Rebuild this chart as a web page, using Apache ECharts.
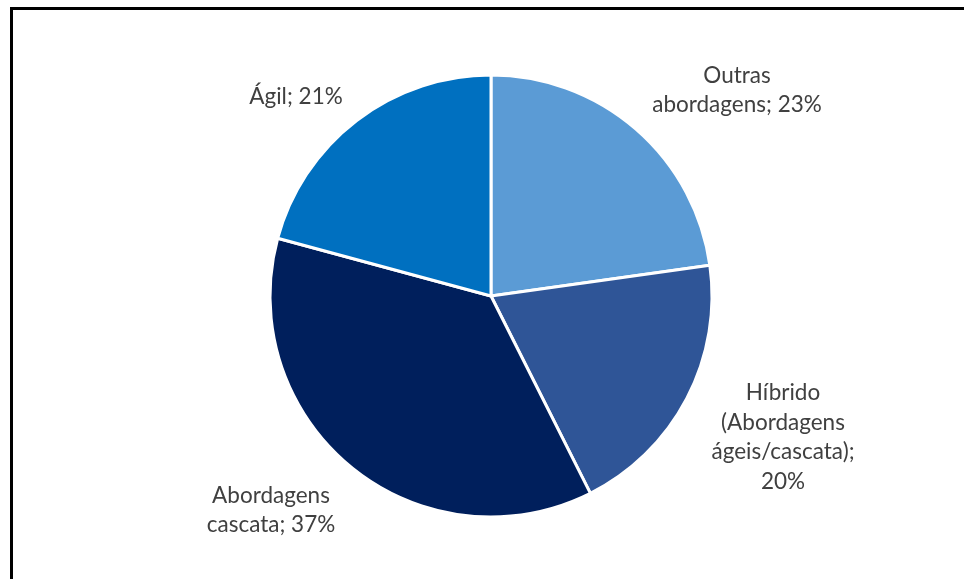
<!DOCTYPE html>
<html>
<head>
<meta charset="utf-8">
<script src="https://cdn.jsdelivr.net/npm/echarts@6/dist/echarts.min.js"></script>
<style>
html,body{margin:0;padding:0;background:#fff;}
#chart{width:964px;height:579px;}
</style>
</head>
<body>
<div id="chart"></div>
<script>
const categories = ['Outras abordagens', 'Híbrido (Abordagens ágeis/cascata)', 'Abordagens cascata', 'Ágil'];
const values = [23, 20, 37, 21];
const labelTexts = [
  'Outras\nabordagens; 23%',
  'Híbrido\n(Abordagens\nágeis/cascata);\n20%',
  'Abordagens\ncascata; 37%',
  'Ágil; 21%'
];
const colors = ['#5B9BD5', '#2F5597', '#001F5C', '#0070C0'];
const labelPos = [[737, 90], [783, 437], [271, 510], [296, 97]];

const chart = echarts.init(document.getElementById('chart'));
chart.setOption({
  animation: false,
  backgroundColor: '#ffffff',
  graphic: [
    { type: 'rect', shape: { x: 10, y: 7, width: 954, height: 3 }, style: { fill: '#000' } },
    { type: 'rect', shape: { x: 10, y: 7, width: 3, height: 572 }, style: { fill: '#000' } }
  ],
  series: [{
    type: 'pie',
    center: [491, 296],
    radius: [0, 221],
    startAngle: 90,
    clockwise: true,
    itemStyle: { borderColor: '#ffffff', borderWidth: 3 },
    labelLine: { show: false },
    label: {
      show: true,
      position: 'outside',
      fontFamily: 'Lato',
      fontSize: 22.5,
      color: '#404040',
      lineHeight: 29.5,
      align: 'center',
      formatter: p => labelTexts[p.dataIndex]
    },
    labelLayout: p => ({
      x: labelPos[p.dataIndex][0],
      y: labelPos[p.dataIndex][1],
      align: 'center',
      verticalAlign: 'middle'
    }),
    data: categories.map((c, i) => ({ name: c, value: values[i], itemStyle: { color: colors[i] } }))
  }]
});
</script>
</body>
</html>
